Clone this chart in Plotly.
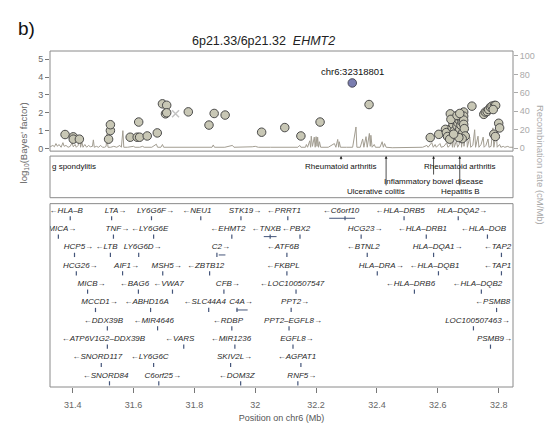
import plotly.graph_objects as go

# ---------------- data ----------------
snp_pos = [31.375, 31.402, 31.402, 31.422, 31.518, 31.524, 31.524, 31.589, 31.612, 31.620,
           31.617, 31.645, 31.678, 31.695, 31.709, 31.705, 31.709, 31.780, 31.848, 31.865,
           31.901, 32.021, 32.097, 32.150, 32.213, 32.374, 32.575, 32.603,
           32.641, 32.625, 32.628, 32.632, 32.639, 32.647, 32.650, 32.654, 32.658, 32.661,
           32.663, 32.666, 32.670, 32.672, 32.674, 32.676, 32.680, 32.682, 32.685, 32.685,
           32.685, 32.685, 32.687, 32.690, 32.680, 32.669, 32.652, 32.643, 32.663, 32.672,
           32.712, 32.751, 32.756, 32.762, 32.767, 32.773, 32.778, 32.786, 32.790, 32.782,
           32.784, 32.789, 32.800, 32.803]
snp_bf = [0.78, 0.65, 0.52, 0.52, 0.52, 1.00, 1.33, 0.63, 0.63, 0.63,
          1.48, 0.70, 0.87, 2.50, 2.42, 1.94, 2.00, 2.05, 1.31, 1.96,
          1.87, 0.91, 1.17, 0.70, 1.48, 2.46, 0.61, 0.79,
          1.94, 1.07, 0.89, 0.67, 0.52, 1.17, 1.35, 0.98, 1.54, 0.74,
          1.26, 1.44, 1.59, 1.07, 1.72, 1.30, 1.48, 0.89, 2.04, 1.81,
          1.59, 1.35, 1.11, 0.70, 0.55, 0.61, 0.80, 1.63, 1.85, 1.96,
          2.37, 1.91, 2.04, 2.07, 2.18, 2.31, 2.37, 2.41, 2.41, 2.18,
          0.80, 0.67, 1.41, 1.15]
lead_pos = [32.318801]
lead_bf = [3.67]
lead_label = ["chr6:32318801"]
cross_pos = [31.738]
cross_bf = [1.94]

rec_pos = [31.326, 31.335, 31.340, 31.345, 31.350, 31.355, 31.362, 31.368, 31.372, 31.378,
           31.385, 31.392, 31.398, 31.402, 31.408, 31.412, 31.418, 31.423, 31.426, 31.430,
           31.434, 31.440, 31.446, 31.452, 31.458, 31.465, 31.468, 31.471, 31.478, 31.485,
           31.492, 31.498, 31.505, 31.510, 31.513, 31.516, 31.525, 31.535, 31.545, 31.555,
           31.560, 31.565, 31.568, 31.580, 31.600, 31.605, 31.620, 31.630, 31.635, 31.660,
           31.675, 31.679, 31.690, 31.695, 31.699, 31.730, 31.760, 31.800, 31.840, 31.858,
           31.862, 31.866, 31.900, 31.925, 31.930, 31.970, 31.990, 32.000, 32.010, 32.050,
           32.100, 32.140, 32.146, 32.150, 32.165, 32.168, 32.172, 32.179, 32.182, 32.184,
           32.188, 32.194, 32.197, 32.200, 32.203, 32.205, 32.208, 32.211, 32.215, 32.240,
           32.260, 32.265, 32.271, 32.274, 32.276, 32.280, 32.300, 32.320, 32.331, 32.334,
           32.345, 32.353, 32.357, 32.364, 32.368, 32.375, 32.378, 32.380, 32.384, 32.391,
           32.395, 32.410, 32.417, 32.421, 32.425, 32.430, 32.450, 32.500, 32.550, 32.564,
           32.568, 32.580, 32.585, 32.591, 32.595, 32.607, 32.611, 32.620, 32.629, 32.633,
           32.640, 32.645, 32.648, 32.651, 32.654, 32.661, 32.665, 32.670, 32.675, 32.678,
           32.683, 32.686, 32.694, 32.697, 32.705, 32.708, 32.715, 32.721, 32.724, 32.732,
           32.735, 32.742, 32.749, 32.752, 32.758, 32.765, 32.768, 32.775, 32.781, 32.784,
           32.792, 32.795, 32.803, 32.807, 32.815, 32.820, 32.830, 32.835, 32.847]
rec_rate = [1.5, 3, 1.5, 5, 2, 4, 1, 6, 2, 3,
            1, 2, 6, 1.5, 4, 1, 3, 12.5, 1, 7,
            1, 4, 1, 3, 1.5, 2, 9, 1, 2, 1,
            3, 1, 1, 2, 16, 1, 1, 2, 1, 3,
            1, 19, 1, 1, 2, 1, 1, 2, 1, 1,
            4.3, 1, 1, 4, 1, 1, 1, 1, 1, 1,
            3.5, 1, 1, 3, 1, 1, 1.5, 2, 1, 1,
            1, 1, 3, 1, 1, 4, 1, 8, 1, 13,
            2, 12, 1, 12.5, 2, 12, 1, 7, 1, 1,
            5, 1, 9.5, 1, 7, 1, 1, 1, 23, 1,
            1, 10, 1, 12.5, 1, 16, 2, 14, 1, 4,
            1, 1, 7, 1, 5, 1, 0.5, 0.5, 1, 3,
            1, 6, 1, 4, 1, 5, 1, 2, 6, 1,
            3, 9.5, 1, 15, 1, 8, 1, 4, 17.5, 1,
            20.4, 2, 22, 1, 12, 1, 3, 20, 1, 13,
            1, 4, 12, 1, 3, 10, 1, 2, 22, 1,
            17, 1, 4, 1, 2, 1, 2, 1, 1]

disease_names = ["g spondylitis", "Rheumatoid arthritis", "Rheumatoid arthritis",
                 "Inflammatory bowel disease", "Ulcerative colitis", "Hepatitis B"]
disease_text_pos = [31.326, 32.282, 32.674, 32.588, 32.397, 32.676]
disease_text_level = [0.76, 0.76, 0.76, 0.40, 0.14, 0.14]
arrow_pos = [31.323, 32.282, 32.430, 32.586, 32.672]
arrow_tail = [0.88, 0.88, 0.26, 0.52, 0.26]

gene_names = ["HLA–B", "LTA", "LY6G6F", "NEU1", "STK19", "PRRT1", "C6orf10", "HLA–DRB5", "HLA–DQA2",
              "MICA", "TNF", "LY6G6E", "EHMT2", "TNXB", "PBX2", "HCG23", "HLA–DRB1", "HLA–DOB",
              "HCP5", "LTB", "LY6G6D", "C2", "ATF6B", "BTNL2", "HLA–DQA1", "TAP2",
              "HCG26", "AIF1", "MSH5", "ZBTB12", "FKBPL", "HLA–DRA", "HLA–DQB1", "TAP1",
              "MICB", "BAG6", "VWA7", "CFB", "LOC100507547", "HLA–DRB6", "HLA–DQB2",
              "MCCD1", "ABHD16A", "SLC44A4", "C4A", "PPT2", "PSMB8",
              "DDX39B", "MIR4646", "RDBP", "PPT2–EGFL8", "LOC100507463",
              "ATP6V1G2–DDX39B", "VARS", "MIR1236", "EGFL8", "PSMB9",
              "SNORD117", "LY6G6C", "SKIV2L", "AGPAT1",
              "SNORD84", "C6orf25", "DOM3Z", "RNF5"]
gene_pos = [31.379, 31.541, 31.672, 31.808, 31.966, 32.094, 32.282, 32.476, 32.680,
            31.366, 31.547, 31.653, 31.910, 32.036, 32.134, 32.361, 32.549, 32.750,
            31.419, 31.511, 31.630, 31.887, 32.091, 32.355, 32.599, 32.796,
            31.425, 31.577, 31.709, 31.837, 32.091, 32.414, 32.589, 32.796,
            31.462, 31.603, 31.715, 31.910, 32.121, 32.510, 32.730,
            31.488, 31.643, 31.834, 31.953, 32.131, 32.780,
            31.501, 31.666, 31.910, 32.124, 32.730,
            31.501, 31.752, 31.920, 32.137, 32.786,
            31.481, 31.653, 31.932, 32.137,
            31.508, 31.696, 31.939, 32.153]
gene_row = [1] * 9 + [2] * 9 + [3] * 8 + [4] * 8 + [5] * 7 + [6] * 6 + [7] * 5 + [8] * 5 + [9] * 4 + [10] * 4
gene_strand = [-1, 1, 1, -1, 1, -1, -1, -1, 1,
               1, 1, -1, -1, -1, -1, 1, -1, -1,
               1, -1, 1, 1, -1, -1, 1, -1,
               1, 1, 1, -1, -1, 1, -1, -1,
               1, -1, -1, 1, -1, -1, -1,
               1, -1, -1, 1, 1, -1,
               -1, -1, -1, 1, 1,
               -1, -1, -1, 1, 1,
               -1, -1, 1, -1,
               -1, 1, -1, 1]
span_genes = ["C6orf10", "TNXB", "C2", "C4A"]
span_start = [32.243, 32.028, 31.880, 31.938]
span_end = [32.328, 32.070, 31.902, 31.975]

x_ticks = [31.4, 31.6, 31.8, 32.0, 32.2, 32.4, 32.6, 32.8]
x_tick_labels = ["31.4", "31.6", "31.8", "32", "32.2", "32.4", "32.6", "32.8"]
bf_ticks = [0, 1, 2, 3, 4, 5]
rec_ticks = [0, 20, 40, 60, 80, 100]

# ---------------- figure ----------------
XR = [31.3255, 32.847]
FONT = "Liberation Sans, Arial, Helvetica, sans-serif"
fig = go.Figure()

fig.add_trace(go.Scatter(x=rec_pos, y=rec_rate, xaxis="x2", yaxis="y", mode="lines",
                         line=dict(color="#a29d91", width=1), hoverinfo="skip"))
fig.add_trace(go.Scatter(x=cross_pos, y=cross_bf, xaxis="x2", yaxis="y2", mode="markers",
                         marker=dict(symbol="x-thin", size=7, line=dict(color="#c4c4c4", width=1.5))))
fig.add_trace(go.Scatter(x=snp_pos, y=snp_bf, xaxis="x2", yaxis="y2", mode="markers",
                         marker=dict(size=8.5, color="#c8c7b5", line=dict(color="#4a4a4a", width=1))))
fig.add_trace(go.Scatter(x=lead_pos, y=lead_bf, xaxis="x2", yaxis="y2", mode="markers",
                         marker=dict(size=8.5, color="#7a7db0", line=dict(color="#4a4a5a", width=1))))

# gene labels
gene_text = [("<i>←" + n + "</i>") if s < 0 else ("<i>" + n + "→</i>")
             for n, s in zip(gene_names, gene_strand)]
fig.add_trace(go.Scatter(x=gene_pos, y=gene_row, xaxis="x", yaxis="y4", mode="text",
                         text=gene_text, textposition="middle center",
                         textfont=dict(size=8, color="#2a2a2a", family=FONT), hoverinfo="skip"))
tick_x = [p - s * 0.013 for p, s in zip(gene_pos, gene_strand)]
tick_y = [r + 0.42 for r in gene_row]
fig.add_trace(go.Scatter(x=tick_x, y=tick_y, xaxis="x", yaxis="y4", mode="markers",
                         marker=dict(symbol="line-ns", size=3, line=dict(color="#44557a", width=1.2)),
                         hoverinfo="skip"))
sx, sy = [], []
for g, a, b in zip(span_genes, span_start, span_end):
    r = gene_row[gene_names.index(g)]
    sx += [a, b, None]
    sy += [r + 0.42, r + 0.42, None]
fig.add_trace(go.Scatter(x=sx, y=sy, xaxis="x", yaxis="y4", mode="lines",
                         line=dict(color="#44557a", width=1), hoverinfo="skip"))

annotations = []
for name, p, lv in zip(disease_names, disease_text_pos, disease_text_level):
    annotations.append(dict(x=p, y=lv, xref="x3", yref="y3", text=name, showarrow=False,
                            xanchor="left" if name.startswith("g ") else "center",
                            font=dict(size=8, color="#111", family=FONT)))
for p, t in zip(arrow_pos, arrow_tail):
    annotations.append(dict(x=p, y=1.0, ax=p, ay=t, xref="x3", yref="y3", axref="x3", ayref="y3",
                            text="", showarrow=True, arrowhead=2, arrowsize=0.7,
                            arrowwidth=0.8, arrowcolor="#222"))
annotations.append(dict(x=lead_pos[0], y=lead_bf[0], xref="x2", yref="y2", text=lead_label[0],
                        showarrow=False, yshift=11, font=dict(size=9.5, color="#111", family=FONT)))
annotations.append(dict(x=-0.074, y=1.105, xref="paper", yref="paper", text="b)", showarrow=False,
                        font=dict(size=19, color="#111", family=FONT)))
annotations.append(dict(x=0.462, y=1.056, xref="paper", yref="paper",
                        text="6p21.33/6p21.32  <i>EHMT2</i>", showarrow=False,
                        font=dict(size=12.5, color="#222", family=FONT)))
annotations.append(dict(x=-0.073, y=0.852, xref="paper", yref="paper", textangle=-90,
                        text="log<sub>10</sub>(Bayes' factor)", showarrow=False,
                        font=dict(size=9.5, color="#666", family=FONT)))
annotations.append(dict(x=1.0756, y=0.847, xref="paper", yref="paper", textangle=90,
                        text="Recombination rate (cM/Mb)", showarrow=False,
                        font=dict(size=9.5, color="#aaa", family=FONT)))

shapes = []
for yr in ["y domain", "y3 domain", "y4 domain"]:
    shapes.append(dict(type="rect", xref="x domain", yref=yr, x0=0, x1=1, y0=0, y1=1,
                       line=dict(color="#8a8a8a", width=1), layer="above"))

MAIN = [0.702, 1.0]
fig.update_layout(
    width=557, height=433,
    margin=dict(l=50, r=44, t=51, b=43, pad=0),
    paper_bgcolor="white", plot_bgcolor="white",
    showlegend=False,
    font=dict(family=FONT),
    xaxis=dict(domain=[0, 1], anchor="y4", range=XR, tickvals=x_ticks, ticktext=x_tick_labels,
               ticks="outside", ticklen=5, tickcolor="#777", showgrid=False, zeroline=False,
               showline=False, tickfont=dict(size=9, color="#666"), ticklabelstandoff=4,
               title=dict(text="Position on chr6 (Mb)", font=dict(size=9, color="#555"), standoff=5)),
    xaxis2=dict(domain=[0, 1], anchor="y", range=XR, showticklabels=False, ticks="",
                showgrid=False, zeroline=False, showline=False),
    xaxis3=dict(domain=[0, 1], anchor="y3", range=XR, showticklabels=False, ticks="",
                showgrid=False, zeroline=False, showline=False),
    yaxis=dict(domain=MAIN, anchor="x2", side="right", range=[-3.2, 105.4], tickvals=rec_ticks,
               ticks="outside", ticklen=4, tickcolor="#aaa", showgrid=False, zeroline=False,
               showline=False, tickfont=dict(size=9, color="#aaa")),
    yaxis2=dict(overlaying="y", anchor="x2", side="left", range=[-0.15, 5.46], tickvals=bf_ticks,
                ticks="outside", ticklen=4, tickcolor="#777", showgrid=False, zeroline=False,
                showline=False, tickfont=dict(size=9, color="#666")),
    yaxis3=dict(domain=[0.5634, 0.6873], anchor="x3", range=[0, 1], visible=False),
    yaxis4=dict(domain=[0, 0.5457], anchor="x", range=[10.62, 0.622], visible=False),
    annotations=annotations,
    shapes=shapes,
)

fig.write_html("out.html")
